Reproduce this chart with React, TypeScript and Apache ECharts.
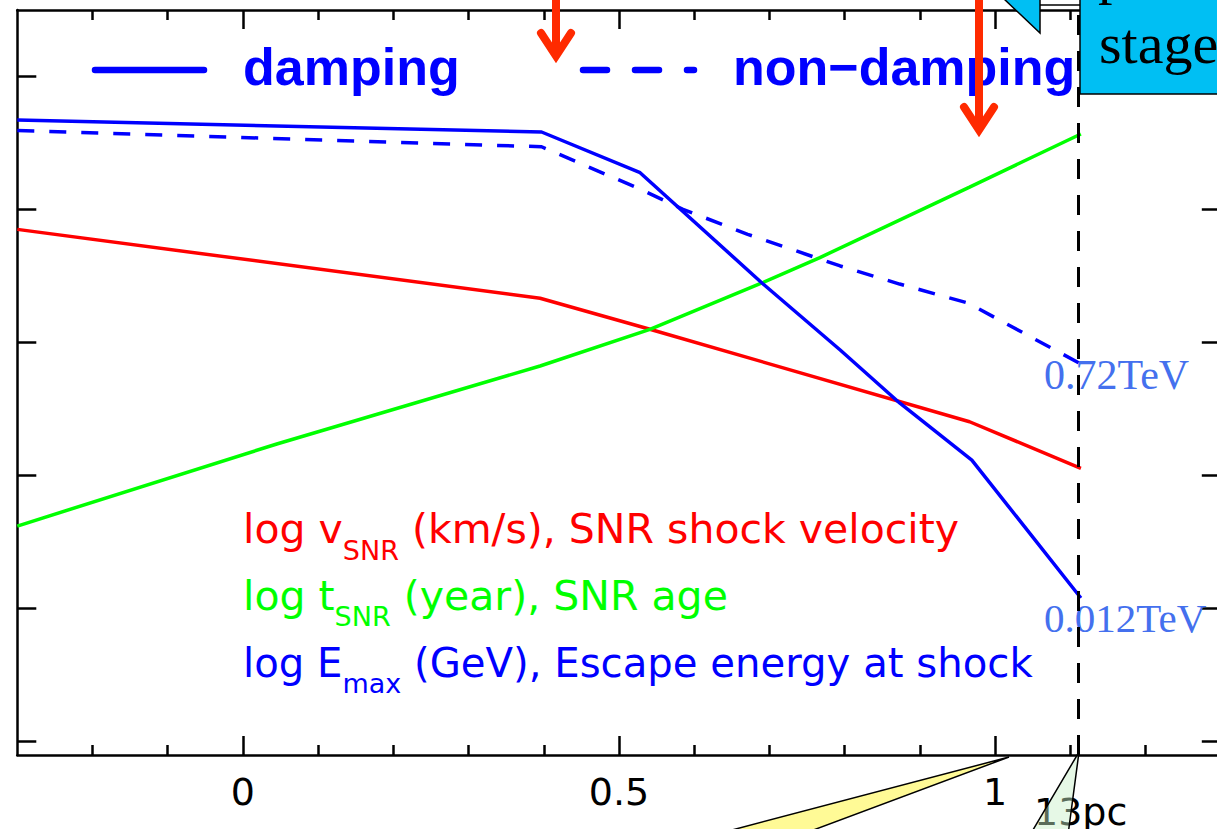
import React, { useEffect, useRef } from "react";
import * as echarts from "echarts";

// ---- axis ticks / labels ----
const xMajorTicks = [0, 0.5, 1];
const xMajorLabels = ["0", "0.5", "1"];
const xMinorTicks = [-0.2, -0.1, 0.1, 0.2, 0.3, 0.4, 0.6, 0.7, 0.8, 0.9, 1.1, 1.2];
const yTicks = [0, 1, 2, 3, 4, 5];
const boundaryLogR = 1.114; // log10(13 pc)

// ---- series values (x = log R, y = log quantity) ----
const vsnrX = [-0.3, 0.395, 0.541, 0.966, 1.114];
const vsnrY = [3.851, 3.333, 3.1, 2.405, 2.055];

const tsnrX = [-0.3, 0.045, 0.395, 0.541, 0.69, 0.767, 0.966, 1.114];
const tsnrY = [1.621, 2.238, 2.824, 3.1, 3.448, 3.639, 4.169, 4.568];

const emaxDampX = [-0.3, 0.397, 0.528, 0.69, 0.794, 0.873, 0.969, 1.114];
const emaxDampY = [4.673, 4.583, 4.277, 3.448, 2.944, 2.546, 2.117, 1.08];

const emaxNoDampX = [-0.3, 0.397, 0.528, 0.585, 0.671, 0.794, 0.873, 0.964, 1.114];
const emaxNoDampY = [4.594, 4.472, 4.154, 4.002, 3.814, 3.576, 3.44, 3.297, 2.839];

const legendNames = ["damping", "non\u2212damping"];
const endLabels = ["0.72TeV", "0.012TeV"];

function zip(xs: number[], ys: number[]) {
  return xs.map((x, i) => [x, ys[i]]);
}

const RED = "#ff0000";
const GREEN = "#00ff00";
const BLUE = "#0000ff";
const ARROW = "#ff2a00";
const CYAN = "#00bff3";
const TEV = "#4470ee";

function subLabel(
  color: string,
  pre: string,
  sub: string,
  post: string,
  top: number,
  size: number,
  pad: number
) {
  return {
    type: "text",
    x: 243,
    y: top,
    z: 20,
    style: {
      text: `{m|${pre}}{s|${sub}}{m|${post}}`,
      fill: color,
      align: "left",
      verticalAlign: "top",
      rich: {
        m: { fontSize: size, fontFamily: "DejaVu Sans", fill: color, lineHeight: size, verticalAlign: "top" },
        s: {
          fontSize: 27,
          fontFamily: "DejaVu Sans",
          fill: color,
          lineHeight: 27,
          padding: [pad, 0, 0, 0],
          verticalAlign: "top",
        },
      },
    },
  };
}

export default function App() {
  const ref = useRef<HTMLDivElement>(null);

  useEffect(() => {
    const chart = echarts.init(ref.current!, null, { renderer: "svg" });
    const axisLine = { color: "#000", width: 2.5 };

    const xAxisBase = {
      type: "value",
      min: -0.3,
      max: 1.3,
      splitLine: { show: false },
    };
    const yAxisBase = {
      type: "value",
      min: -0.1,
      max: 5.5,
      splitLine: { show: false },
    };

    const option: any = {
      animation: false,
      backgroundColor: "#fff",
      grid: { left: 17.3, top: 10, width: 1203.5, height: 745 },
      xAxis: [
        {
          ...xAxisBase,
          position: "bottom",
          axisLine: { show: true, onZero: false, lineStyle: axisLine },
          axisTick: { show: true, inside: true, length: 19, customValues: xMajorTicks, lineStyle: axisLine },
          axisLabel: {
            show: true,
            customValues: xMajorTicks,
            formatter: (v: number) => {
              const i = xMajorTicks.indexOf(v);
              return i >= 0 ? xMajorLabels[i] : String(v);
            },
            margin: 18,
            fontSize: 38,
            lineHeight: 38,
            fontFamily: "DejaVu Sans",
            color: "#000",
          },
        },
        {
          ...xAxisBase,
          position: "bottom",
          axisLine: { show: false, onZero: false },
          axisTick: { show: true, inside: true, length: 10, customValues: xMinorTicks, lineStyle: axisLine },
          axisLabel: { show: false },
        },
        {
          ...xAxisBase,
          position: "top",
          axisLine: { show: true, onZero: false, lineStyle: axisLine },
          axisTick: { show: true, inside: true, length: 19, customValues: xMajorTicks, lineStyle: axisLine },
          axisLabel: { show: false },
        },
        {
          ...xAxisBase,
          position: "top",
          axisLine: { show: false, onZero: false },
          axisTick: { show: true, inside: true, length: 10, customValues: xMinorTicks, lineStyle: axisLine },
          axisLabel: { show: false },
        },
      ],
      yAxis: [
        {
          ...yAxisBase,
          position: "left",
          axisLine: { show: true, onZero: false, lineStyle: axisLine },
          axisTick: { show: true, inside: true, length: 19, customValues: yTicks, lineStyle: axisLine },
          axisLabel: { show: false },
        },
        {
          ...yAxisBase,
          position: "right",
          axisLine: { show: true, onZero: false, lineStyle: axisLine },
          axisTick: { show: true, inside: true, length: 19, customValues: yTicks, lineStyle: axisLine },
          axisLabel: { show: false },
        },
      ],
      series: [
        {
          type: "line",
          name: "vSNR",
          data: zip(vsnrX, vsnrY),
          symbol: "none",
          lineStyle: { color: RED, width: 3.5 },
          markLine: {
            silent: true,
            symbol: ["none", "none"],
            label: { show: false },
            lineStyle: { color: "#000", width: 3, type: [20, 16] },
            data: [{ xAxis: boundaryLogR }],
          },
        },
        {
          type: "line",
          name: "tSNR",
          data: zip(tsnrX, tsnrY),
          symbol: "none",
          lineStyle: { color: GREEN, width: 3.5 },
        },
        {
          type: "line",
          name: legendNames[0],
          data: zip(emaxDampX, emaxDampY),
          symbol: "none",
          lineStyle: { color: BLUE, width: 3.5 },
        },
        {
          type: "line",
          name: legendNames[1],
          data: zip(emaxNoDampX, emaxNoDampY),
          symbol: "none",
          lineStyle: { color: BLUE, width: 3.5, type: [17, 15] },
        },
      ],
      graphic: [
        // legend
        {
          type: "line",
          z: 20,
          shape: { x1: 95, y1: 70, x2: 204, y2: 70 },
          style: { stroke: BLUE, lineWidth: 6.5, lineCap: "round" },
        },
        {
          type: "text",
          z: 20,
          x: 243,
          y: 67,
          style: {
            text: legendNames[0],
            fill: BLUE,
            font: "bold 52px 'Liberation Sans'",
            align: "left",
            verticalAlign: "middle",
          },
        },
        {
          type: "line",
          z: 20,
          shape: { x1: 583, y1: 70, x2: 694, y2: 70 },
          style: { stroke: BLUE, lineWidth: 6.5, lineCap: "round", lineDash: [24, 28] },
        },
        {
          type: "text",
          z: 20,
          x: 733,
          y: 67,
          style: {
            text: legendNames[1],
            fill: BLUE,
            font: "bold 52px 'Liberation Sans'",
            align: "left",
            verticalAlign: "middle",
          },
        },
        // red arrows
        {
          type: "line",
          z: 100,
          shape: { x1: 556, y1: -2, x2: 556, y2: 52 },
          style: { stroke: ARROW, lineWidth: 8 },
        },
        {
          type: "polyline",
          z: 100,
          shape: { points: [[541, 33], [556, 56], [571, 33]] },
          style: { stroke: ARROW, lineWidth: 8, lineCap: "round", lineJoin: "miter", fill: "none" },
        },
        {
          type: "line",
          z: 100,
          shape: { x1: 979, y1: -2, x2: 979, y2: 126 },
          style: { stroke: ARROW, lineWidth: 8 },
        },
        {
          type: "polyline",
          z: 100,
          shape: { points: [[964, 107], [979, 130], [994, 107]] },
          style: { stroke: ARROW, lineWidth: 8, lineCap: "round", lineJoin: "miter", fill: "none" },
        },
        // cyan callout
        {
          type: "polygon",
          z: 100,
          shape: { points: [[1003, -2], [1040, 33], [1040, -2]] },
          style: { fill: CYAN, stroke: "#000", lineWidth: 1.5 },
        },
        {
          type: "line",
          z: 100,
          shape: { x1: 1040, y1: 5, x2: 1080, y2: 5 },
          style: { stroke: "#000", lineWidth: 1.5 },
        },
        {
          type: "rect",
          z: 100,
          shape: { x: 1080, y: -3, width: 160, height: 97 },
          style: { fill: CYAN, stroke: "#000", lineWidth: 1.5 },
        },
        {
          type: "text",
          z: 101,
          x: 1098,
          y: -27,
          style: { text: "p", fill: "#000", font: "58px 'Liberation Serif'", align: "left", verticalAlign: "middle" },
        },
        {
          type: "text",
          z: 101,
          x: 1099,
          y: 43.4,
          style: { text: "stage", fill: "#000", font: "58px 'Liberation Serif'", align: "left", verticalAlign: "middle" },
        },
        // end labels
        {
          type: "text",
          z: 1,
          x: 1044,
          y: 375,
          style: { text: endLabels[0], fill: TEV, font: "42px 'Liberation Serif'", align: "left", verticalAlign: "middle" },
        },
        {
          type: "text",
          z: 1,
          x: 1044,
          y: 618,
          style: { text: endLabels[1], fill: TEV, font: "41px 'Liberation Serif'", align: "left", verticalAlign: "middle" },
        },
        // descriptive labels
        subLabel(RED, "log v", "SNR", " (km/s), SNR shock velocity", 508.6, 41, 28),
        subLabel(GREEN, "log t", "SNR", " (year), SNR age", 575.3, 41, 28),
        subLabel(BLUE, "log E", "max", " (GeV), Escape energy at shock", 642.6, 40.2, 27.3),
        // bottom callouts
        {
          type: "polygon",
          z: 100,
          shape: { points: [[1009, 757], [713, 835], [800, 835]] },
          style: { fill: "#fffa96", stroke: "#000", lineWidth: 1.5 },
        },
        {
          type: "text",
          z: 100,
          x: 1034,
          y: 812,
          style: { text: "13pc", fill: "#000", font: "38px 'DejaVu Sans'", align: "left", verticalAlign: "middle" },
        },
        {
          type: "polygon",
          z: 101,
          shape: { points: [[1079, 752], [1030, 835], [1068, 835]] },
          style: { fill: "rgba(200,240,200,0.45)", stroke: "#000", lineWidth: 1.5 },
        },
      ],
    };

    chart.setOption(option);
    return () => chart.dispose();
  }, []);

  return (
    <div
      style={{
        position: "fixed",
        left: 0,
        top: 0,
        width: 1217,
        height: 829,
        overflow: "hidden",
        background: "#fff",
      }}
    >
      <div ref={ref} style={{ width: 1236, height: 829 }} />
    </div>
  );
}
